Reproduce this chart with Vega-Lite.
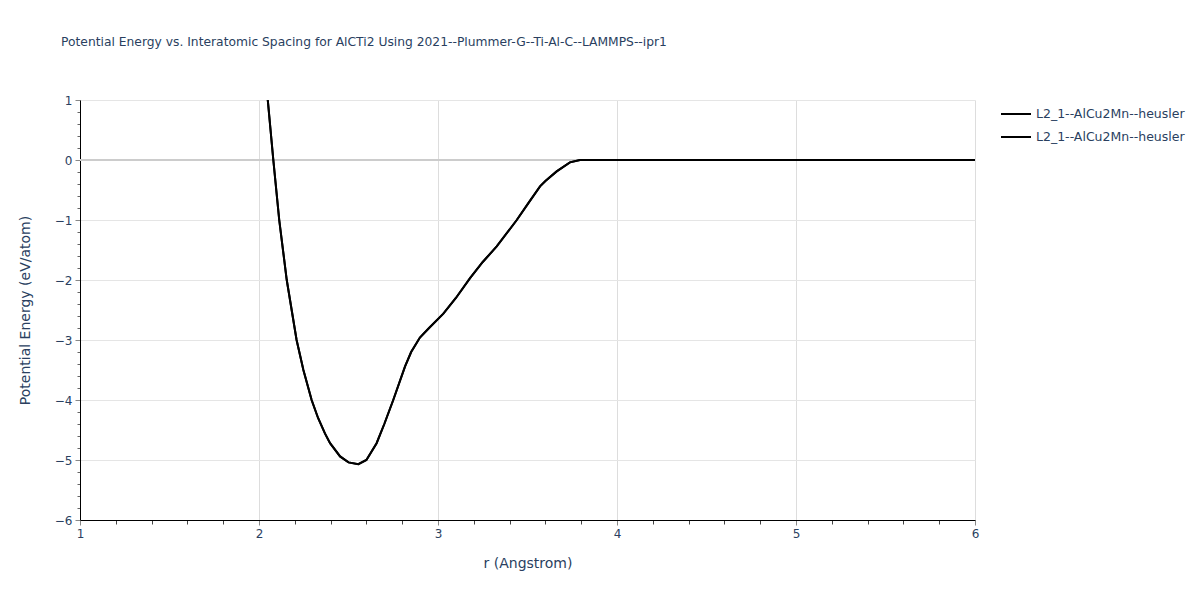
{
  "$schema": "https://vega.github.io/schema/vega-lite/v6.json",
  "width": 895,
  "height": 420,
  "autosize": {"type": "none"},
  "padding": {"left": 80, "top": 100, "right": 225, "bottom": 80},
  "background": "white",
  "title": {
    "text": "Potential Energy vs. Interatomic Spacing for AlCTi2 Using 2021--Plummer-G--Ti-Al-C--LAMMPS--ipr1",
    "anchor": "start",
    "frame": "group",
    "dx": -19,
    "offset": 46,
    "fontSize": 12.3,
    "fontWeight": "normal",
    "font": "DejaVu Sans",
    "color": "#2a3f5f"
  },
  "data": {
    "values": [
      {"r": 2.049, "run1": 1.0, "run2": 1.0},
      {"r": 2.08, "run1": 0.0, "run2": 0.0},
      {"r": 2.113, "run1": -1.0, "run2": -1.0},
      {"r": 2.155, "run1": -2.0, "run2": -2.0},
      {"r": 2.21, "run1": -3.0, "run2": -3.0},
      {"r": 2.248, "run1": -3.5, "run2": -3.5},
      {"r": 2.294, "run1": -4.0, "run2": -4.0},
      {"r": 2.33, "run1": -4.3, "run2": -4.3},
      {"r": 2.369, "run1": -4.56, "run2": -4.56},
      {"r": 2.397, "run1": -4.72, "run2": -4.72},
      {"r": 2.453, "run1": -4.94, "run2": -4.94},
      {"r": 2.50, "run1": -5.04, "run2": -5.04},
      {"r": 2.555, "run1": -5.07, "run2": -5.07},
      {"r": 2.60, "run1": -5.0, "run2": -5.0},
      {"r": 2.657, "run1": -4.72, "run2": -4.72},
      {"r": 2.70, "run1": -4.4, "run2": -4.4},
      {"r": 2.75, "run1": -4.0, "run2": -4.0},
      {"r": 2.816, "run1": -3.44, "run2": -3.44},
      {"r": 2.85, "run1": -3.2, "run2": -3.2},
      {"r": 2.899, "run1": -2.96, "run2": -2.96},
      {"r": 2.95, "run1": -2.8, "run2": -2.8},
      {"r": 3.03, "run1": -2.56, "run2": -2.56},
      {"r": 3.10, "run1": -2.3, "run2": -2.3},
      {"r": 3.179, "run1": -1.97, "run2": -1.97},
      {"r": 3.25, "run1": -1.7, "run2": -1.7},
      {"r": 3.328, "run1": -1.44, "run2": -1.44},
      {"r": 3.44, "run1": -1.0, "run2": -1.0},
      {"r": 3.50, "run1": -0.74, "run2": -0.74},
      {"r": 3.57, "run1": -0.44, "run2": -0.44},
      {"r": 3.60, "run1": -0.35, "run2": -0.35},
      {"r": 3.663, "run1": -0.19, "run2": -0.19},
      {"r": 3.737, "run1": -0.04, "run2": -0.04},
      {"r": 3.793, "run1": 0.0, "run2": 0.0},
      {"r": 4.0, "run1": 0.0, "run2": 0.0},
      {"r": 5.0, "run1": 0.0, "run2": 0.0},
      {"r": 6.0, "run1": 0.0, "run2": 0.0}
    ]
  },
  "transform": [
    {"fold": ["run1", "run2"], "as": ["series", "energy"]}
  ],
  "resolve": {"axis": {"x": "independent", "y": "independent"}},
  "layer": [
    {
      "mark": {"type": "line", "opacity": 0},
      "encoding": {
        "x": {
          "field": "r", "type": "quantitative",
          "scale": {"domain": [1, 6], "nice": false, "zero": false},
          "axis": {
            "orient": "bottom",
            "values": [1.2, 1.4, 1.6, 1.8, 2.2, 2.4, 2.6, 2.8, 3.2, 3.4, 3.6, 3.8, 4.2, 4.4, 4.6, 4.8, 5.2, 5.4, 5.6, 5.8],
            "labels": false, "grid": false, "domain": false, "title": null,
            "tickColor": "#444", "tickSize": 4
          }
        },
        "y": {
          "field": "energy", "type": "quantitative",
          "scale": {"domain": [-6, 1], "nice": false, "zero": false},
          "axis": {
            "orient": "left",
            "values": [-5.8, -5.6, -5.4, -5.2, -4.8, -4.6, -4.4, -4.2, -3.8, -3.6, -3.4, -3.2, -2.8, -2.6, -2.4, -2.2, -1.8, -1.6, -1.4, -1.2, -0.8, -0.6, -0.4, -0.2, 0.2, 0.4, 0.6, 0.8],
            "labels": false, "grid": false, "domain": false, "title": null,
            "tickColor": "#666", "tickSize": 3
          }
        },
        "detail": {"field": "series"}
      }
    },
    {
      "mark": {"type": "rule", "color": "#cccccc", "strokeWidth": 2},
      "encoding": {
        "y": {"datum": 0, "type": "quantitative", "axis": null}
      }
    },
    {
      "mark": {"type": "line", "strokeWidth": 2, "clip": true},
      "encoding": {
        "x": {
          "field": "r", "type": "quantitative",
          "scale": {"domain": [1, 6], "nice": false, "zero": false},
          "axis": {
            "orient": "bottom",
            "values": [1, 2, 3, 4, 5, 6],
            "title": "r (Angstrom)",
            "titleX": 447.5, "titleY": 43, "titleBaseline": "middle",
            "labelFlush": false,
            "grid": true, "gridColor": "#dddddd",
            "domainColor": "#000000", "tickColor": "#888", "tickSize": 5
          }
        },
        "y": {
          "field": "energy", "type": "quantitative",
          "scale": {"domain": [-6, 1], "nice": false, "zero": false},
          "axis": {
            "orient": "left",
            "values": [-6, -5, -4, -3, -2, -1, 0, 1],
            "title": "Potential Energy (eV/atom)",
            "titleX": -55, "titleBaseline": "middle",
            "labelFlush": false,
            "grid": true, "gridColor": "#e5e5e5",
            "domainColor": "#000000", "tickColor": "#888", "tickSize": 5
          }
        },
        "color": {
          "field": "series", "type": "nominal",
          "scale": {"range": ["#000000", "#000000"]},
          "legend": {
            "title": null,
            "orient": "none",
            "legendX": 920,
            "legendY": -2,
            "symbolType": "stroke",
            "symbolSize": 900,
            "symbolStrokeWidth": 2,
            "rowPadding": -1,
            "labelOffset": 4,
            "labelExpr": "'L2_1--AlCu2Mn--heusler'",
            "labelFontSize": 12.5,
            "labelColor": "#2a3f5f",
            "labelFont": "DejaVu Sans"
          }
        }
      }
    }
  ],
  "config": {
    "view": {"stroke": null},
    "axis": {
      "labelFont": "DejaVu Sans",
      "labelFontSize": 12,
      "labelColor": "#2a3f5f",
      "titleFont": "DejaVu Sans",
      "titleFontSize": 14,
      "titleFontWeight": "normal",
      "titleColor": "#2a3f5f",
      "labelPadding": 3
    }
  }
}
